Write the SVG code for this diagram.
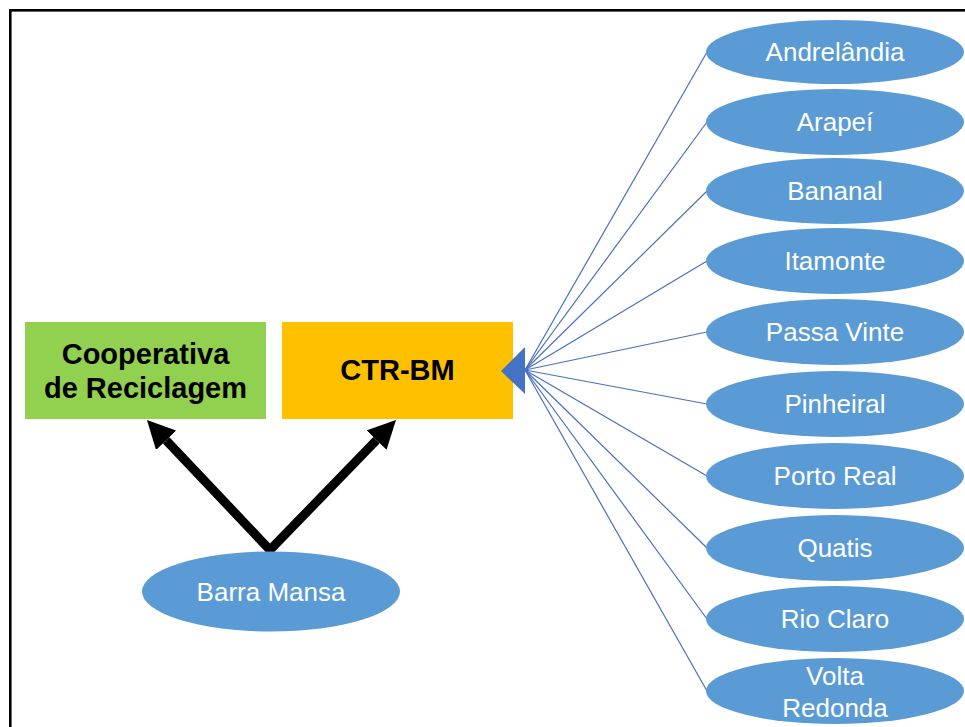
<svg xmlns="http://www.w3.org/2000/svg" width="965" height="727" viewBox="0 0 965 727">
<defs>
<style>
.city{fill:#5B9BD5}
.ct{font-family:"Liberation Sans",Arial,sans-serif;font-size:26px;fill:#FFFFFF;text-anchor:middle}
.bt{font-family:"Liberation Sans",Arial,sans-serif;font-size:29px;font-weight:bold;fill:#000000;text-anchor:middle}
.fan{stroke:#4A6FBE;stroke-width:1.2;fill:none}
.thick{stroke:#000000;stroke-width:9;fill:none;stroke-linejoin:miter}
</style>
<marker id="ah" viewBox="0 0 28 28" refX="0" refY="14" markerWidth="28" markerHeight="28" markerUnits="userSpaceOnUse" orient="auto-start-reverse">
<path d="M0,0 L28,14 L0,28 Z" fill="#000000"/>
</marker>
</defs>
<rect x="0" y="0" width="965" height="727" fill="#FFFFFF"/>
<rect x="10.3" y="10.3" width="1000" height="800" fill="none" stroke="#000000" stroke-width="2.6"/>
<g id="connectors">
<path class="thick" d="M166.2,440.3 L270,550 L376.5,440.1" marker-start="url(#ah)" marker-end="url(#ah)"/>
<path class="fan" d="M525,370 L707,52"/>
<path class="fan" d="M525,370 L707,122"/>
<path class="fan" d="M525,370 L707,191"/>
<path class="fan" d="M525,370 L707,261"/>
<path class="fan" d="M525,370 L707,332"/>
<path class="fan" d="M525,370 L707,404"/>
<path class="fan" d="M525,370 L707,476"/>
<path class="fan" d="M525,370 L707,548"/>
<path class="fan" d="M525,370 L707,619"/>
<path class="fan" d="M525,370 L707,691"/>
</g>
<g id="cooperativa">
<rect x="25" y="322" width="241" height="97" fill="#92D050"/>
<text class="bt" x="145.5" y="364">Cooperativa</text>
<text class="bt" x="145.5" y="398">de Reciclagem</text>
</g>
<g id="ctr-bm">
<rect x="282" y="322" width="231" height="97" fill="#FFC000"/>
<text class="bt" x="397.5" y="380">CTR-BM</text>
</g>
<polygon points="501,371 525,347 525,394" fill="#4472C4"/>
<g id="barra-mansa">
<ellipse class="city" cx="271" cy="591.5" rx="129" ry="40"/>
<text class="ct" x="271" y="601">Barra Mansa</text>
</g>
<g id="andrelandia"><ellipse class="city" cx="835" cy="52" rx="129" ry="32"/><text class="ct" x="835" y="61">Andrelândia</text></g>
<g id="arapei"><ellipse class="city" cx="835" cy="122" rx="129" ry="33"/><text class="ct" x="835" y="131">Arapeí</text></g>
<g id="bananal"><ellipse class="city" cx="835" cy="191" rx="129" ry="33"/><text class="ct" x="835" y="200">Bananal</text></g>
<g id="itamonte"><ellipse class="city" cx="835" cy="261" rx="129" ry="33"/><text class="ct" x="835" y="270">Itamonte</text></g>
<g id="passa-vinte"><ellipse class="city" cx="835" cy="332" rx="129" ry="33"/><text class="ct" x="835" y="341">Passa Vinte</text></g>
<g id="pinheiral"><ellipse class="city" cx="835" cy="404" rx="129" ry="33"/><text class="ct" x="835" y="413">Pinheiral</text></g>
<g id="porto-real"><ellipse class="city" cx="835" cy="476" rx="129" ry="33"/><text class="ct" x="835" y="485">Porto Real</text></g>
<g id="quatis"><ellipse class="city" cx="835" cy="548" rx="129" ry="33"/><text class="ct" x="835" y="557">Quatis</text></g>
<g id="rio-claro"><ellipse class="city" cx="835" cy="619" rx="129" ry="33"/><text class="ct" x="835" y="628">Rio Claro</text></g>
<g id="volta-redonda"><ellipse class="city" cx="835" cy="691" rx="129" ry="33"/><text class="ct" x="835" y="685">Volta</text><text class="ct" x="835" y="717">Redonda</text></g>
</svg>
